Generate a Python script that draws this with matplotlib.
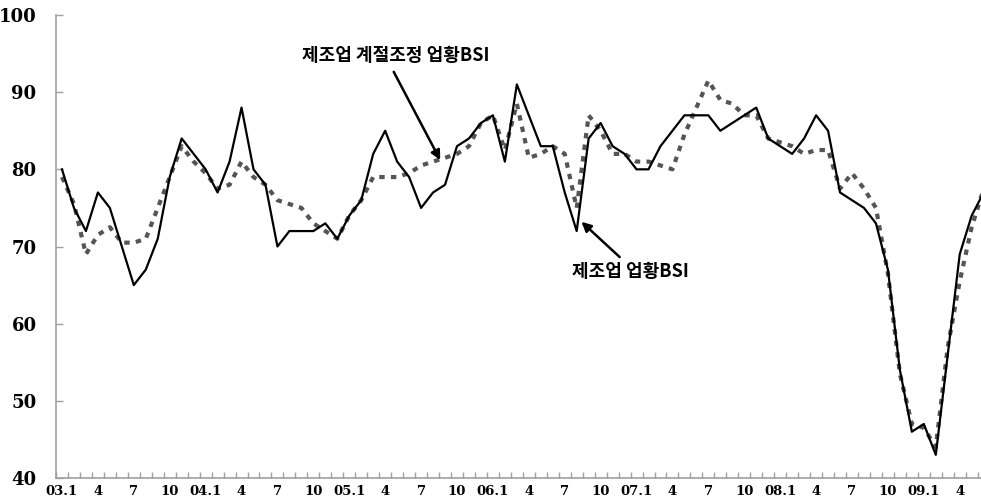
import matplotlib
matplotlib.use("Agg")
import matplotlib.pyplot as plt
import numpy as np

# 제조업 업황BSI (원계열), 2003.1 ~ 2009.6
bsi = [80, 75, 72, 77, 75, 70, 65, 67, 71, 79, 84, 82,
       80, 77, 81, 88, 80, 78, 70, 72, 72, 72, 73, 71,
       74, 76, 82, 85, 81, 79, 75, 77, 78, 83, 84, 86,
       87, 81, 91, 87, 83, 83, 77, 72, 84, 86, 83, 82,
       80, 80, 83, 85, 87, 87, 87, 85, 86, 87, 88, 84,
       83, 82, 84, 87, 85, 77, 76, 75, 73, 67, 54, 46,
       47, 43, 56, 69, 74, 77]

# 제조업 계절조정 업황BSI
bsi_sa = [79, 75.5, 69, 71.5, 72.5, 70.5, 70.5, 71, 75, 79, 83, 81,
          79.5, 77.5, 78, 81, 79, 78, 76, 75.5, 75, 73, 72, 71,
          74, 76, 79, 79, 79, 79.5, 80.5, 81, 81.5, 82, 83, 86,
          87, 82.5, 88.5, 81.5, 82, 83, 82, 75, 87, 85, 82, 82,
          81, 81, 80.5, 80, 84.5, 88, 91.5, 89, 88.5, 87, 87, 84,
          83.5, 83, 82, 82.5, 82.5, 77.5, 79.5, 77.5, 75, 66.5, 53.5, 47,
          46.5, 44, 57, 65.5, 72.5, 77.5]

tick_labels = []
for yr in range(3, 10):
    for m in [1, 4, 7, 10]:
        tick_labels.append(f"{yr:02d}.1" if m == 1 else str(m))
tick_labels = tick_labels[:26]   # 03.1 ... 09.4

W, H = 981, 496
fig = plt.figure(figsize=(W / 100, H / 100), dpi=100)
ax = fig.add_axes([56 / W, (H - 478) / H, (W - 56) / W, (478 - 15) / H])

x = np.arange(len(bsi))
ax.plot(x, bsi_sa, color="#555555", lw=3.0, dashes=(1.3, 1.5),
        dash_capstyle="butt", zorder=2)
ax.plot(x, bsi, color="black", lw=1.6, zorder=3)

axis_col = "#a0a0a0"
for s in ["top", "right"]:
    ax.spines[s].set_visible(False)
for s in ["left", "bottom"]:
    ax.spines[s].set_color(axis_col)
    ax.spines[s].set_linewidth(1.2)

ax.set_yticks(np.arange(40, 101, 10))
ax.tick_params(axis="y", direction="in", length=5, color=axis_col, width=1,
               pad=14, labelsize=13)
for lab in ax.get_yticklabels():
    lab.set_family("DejaVu Serif")
    lab.set_fontweight("bold")

ax.set_xticks(np.arange(0, len(tick_labels) * 3, 3))
ax.set_xticklabels(tick_labels, family="DejaVu Serif", fontsize=9.5,
                   fontweight="bold")
ax.tick_params(axis="x", which="major", length=0, pad=5)
ax.set_xticks(np.arange(-0.5, 78, 1), minor=True)
ax.tick_params(axis="x", which="minor", direction="in", length=4,
               color=axis_col, width=1)

# limits after the ticks so set_xticks cannot widen them
ax.set_xlim(-0.5, -0.5 + (W - 56) / 11.97)
ax.set_ylim(40, 100)

kfont = ["Noto Sans CJK KR", "DejaVu Sans"]
ax.annotate("제조업 계절조정 업황BSI", xy=(31.6, 81.2), xytext=(27.9, 94.7),
            fontsize=13, fontweight="bold", family=kfont,
            ha="center", va="center",
            arrowprops=dict(arrowstyle="-|>", color="black", lw=1.8,
                            mutation_scale=14, shrinkA=3, shrinkB=0,
                            relpos=(0.47, 0.0)))
ax.annotate("제조업 업황BSI", xy=(43.4, 73.2), xytext=(47.5, 66.8),
            fontsize=13, fontweight="bold", family=kfont,
            ha="center", va="center",
            arrowprops=dict(arrowstyle="-|>", color="black", lw=1.8,
                            mutation_scale=14, shrinkA=2, shrinkB=0,
                            relpos=(0.45, 1.0)))

fig.savefig("out.png", dpi=100)
